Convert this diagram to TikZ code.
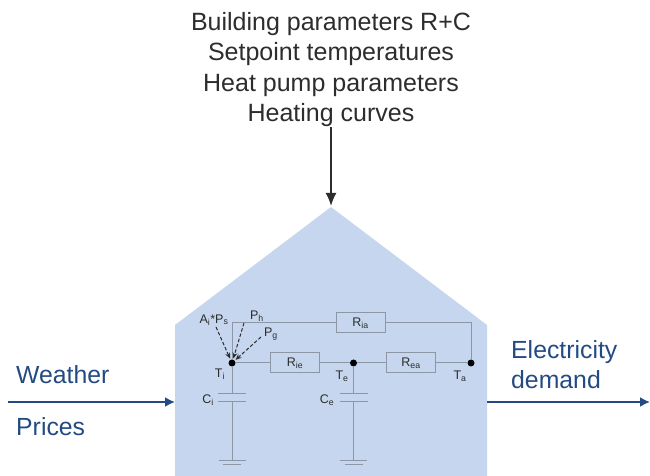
\documentclass[tikz,border=0pt]{standalone}
\usepackage{fontspec}
\setmainfont{Liberation Sans}
\usetikzlibrary{arrows.meta}
\definecolor{casa}{RGB}{198,214,238}
\definecolor{azul}{RGB}{35,75,130}
\definecolor{grisc}{RGB}{140,150,165}
\definecolor{negro}{RGB}{45,45,45}
\tikzset{
  casab/.style={fill=casa, draw=none},
  res/.style={draw=grisc, fill=casa, line width=1pt, minimum width=49pt, minimum height=20pt, inner sep=0pt, font=\fontsize{12.5}{14}\selectfont, text=negro},
  nudo/.style={circle, fill=black, inner sep=0pt, minimum size=7pt},
  cable/.style={draw=grisc, line width=1pt},
  et/.style={font=\fontsize{12.5}{14}\selectfont, text=negro, inner sep=0pt},
  fla/.style={-{Latex[length=10pt,width=10pt]}, line width=1.9pt, azul},
  flg/.style={-{Latex[length=13pt,width=11pt]}, line width=1.9pt, negro},
  flp/.style={-{Stealth[length=6pt,width=5pt]}, dash pattern=on 3.5pt off 2pt, line width=1pt, negro, shorten >=1pt},
  tazul/.style={font=\fontsize{24.8}{30}\selectfont, text=azul, inner sep=0pt, anchor=west},
}
\begin{document}
\begin{tikzpicture}[x=1pt, y=1pt]
  \useasboundingbox (0,0) rectangle (650,476);
  \fill[casab] (175,0) -- (175,151) -- (331,269) -- (487,151) -- (487,0) -- cycle;
  % inputs
  \node[align=center, font=\fontsize{25}{30.5}\selectfont, text=negro, inner sep=0pt] (par) at (331,406.5) {Building parameters R+C\\ Setpoint temperatures\\ Heat pump parameters\\ Heating curves};
  \coordinate (tope) at (331,270);
  \draw[flg] (331,349) -- (tope);
  \coordinate (e1) at (8,74); \coordinate (e2) at (175,74);
  \coordinate (s1) at (487,74); \coordinate (s2) at (650,74);
  \draw[fla] (e1) -- (e2);
  \draw[fla] (s1) -- (s2);
  \node[tazul] (weather) at (16,101) {Weather};
  \node[tazul] (prices) at (16,49) {Prices};
  \node[tazul, align=left] (demand) at (511,111) {Electricity\\ demand};
  % circuit
  \node[nudo] (ti) at (232,113) {};
  \node[nudo] (te) at (353.5,113) {};
  \node[nudo] (ta) at (471,113) {};
  \node[res] (rie) at (295,113) {R\textsubscript{ie}};
  \node[res] (rea) at (411,113) {R\textsubscript{ea}};
  \node[res] (ria) at (360.5,153) {R\textsubscript{ia}};
  \draw[cable] (ti) -- (rie) -- (te) -- (rea) -- (ta);
  \draw[cable] (ti) |- (ria);
  \draw[cable] (ria) -| (ta);
  % capacitors and ground
  \foreach \n/\x in {i/232,e/353.5}{
    \coordinate (c\n a) at (\x,82);
    \coordinate (c\n b) at (\x,74);
    \coordinate (g\n) at (\x,15);
    \draw[cable] (\x-14,82) -- (\x+14,82);
    \draw[cable] (\x-14,74) -- (\x+14,74);
    \draw[cable] (\x-13.5,15) -- (\x+13.5,15);
    \draw[cable] (\x-9,11) -- (\x+9,11);
    \draw[cable] (c\n b) -- (g\n);
  }
  \draw[cable] (ti) -- (cia);
  \draw[cable] (te) -- (cea);
  % sources
  \node[et] (as) at (214,156) {A\textsubscript{i}*P\textsubscript{s}};
  \node[et] (ph) at (257,160) {P\textsubscript{h}};
  \node[et] (pg) at (271,142) {P\textsubscript{g}};
  \draw[flp] (as) ++(2,-7) coordinate (asf) (asf) -- (ti);
  \draw[flp] (ph) ++(-13,-7) coordinate (phf) (phf) -- (ti);
  \draw[flp] (pg) ++(-10,-3) coordinate (pgf) (pgf) -- (ti);
  \node[et] (lti) at (220,102) {T\textsubscript{i}};
  \node[et] (lte) at (342,100) {T\textsubscript{e}};
  \node[et] (lta) at (460,100) {T\textsubscript{a}};
  \node[et] (lci) at (208,76) {C\textsubscript{i}};
  \node[et] (lce) at (327,76) {C\textsubscript{e}};
\end{tikzpicture}
\end{document}
